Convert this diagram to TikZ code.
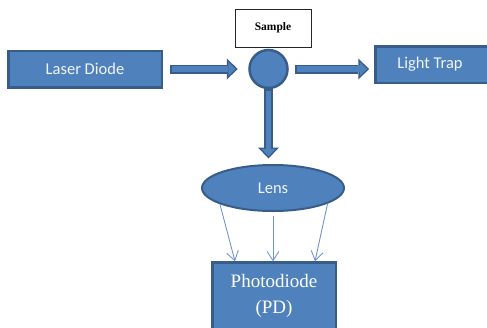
\documentclass[tikz,border=0pt]{standalone}
\usepackage{fontspec}
\setmainfont{Liberation Serif}
\newfontfamily\calib{Carlito}
\usetikzlibrary{arrows.meta,shapes.geometric,calc}
\definecolor{bfill}{HTML}{4F81BD}
\definecolor{bdark}{HTML}{385D8A}
\definecolor{thinc}{HTML}{6F95CC}
\definecolor{ltext}{HTML}{F2F5FA}
\begin{document}
\begin{tikzpicture}[x=1pt,y=-1pt,
  box/.style={draw=bdark, fill=bfill, line width=2.5pt, inner sep=0pt},
  sanslab/.style={text=ltext, font=\calib\fontsize{16.5}{18}\selectfont},
  blockouter/.style={line width=9pt, draw=bdark, -{Triangle[width=21pt,length=11pt,line width=0pt]}},
  blockinner/.style={line width=5.5pt, draw=bfill, -{Triangle[width=14pt,length=7.3pt,line width=0pt]}},
  thinarrow/.style={draw=thinc, line width=0.9pt, -{Straight Barb[length=9pt,width=12pt]}}]
\useasboundingbox (0,0) rectangle (487,327);
% nodes
\node[box, minimum width=153.5pt, minimum height=36.5pt, sanslab] (ld) at (85,69) {Laser Diode};
\node[draw=black!85, line width=0.8pt, minimum width=76pt, minimum height=38pt, inner sep=0pt,
      font=\bfseries\fontsize{11.5}{13}\selectfont] (s) at (273,28) {Sample};
\node[circle, draw=bdark, fill=bfill, line width=2.5pt, minimum size=38pt, inner sep=0pt] (c) at (268.5,69) {};
\node[box, minimum width=118pt, minimum height=36.5pt, anchor=west] (lt) at (374.25,64.5) {};
\node[sanslab] (ltt) at (430,64.5) {Light Trap};
\node[ellipse, draw=bdark, fill=bfill, line width=2pt, minimum width=142pt, minimum height=46pt, inner sep=0pt, sanslab] (lens) at (273,188) {Lens};
\node[box, minimum width=123.5pt, minimum height=80pt, anchor=north] (pd) at (274,261.25) {};
\node[align=center, text=white, font=\fontsize{19}{26}\selectfont] (pdt) at (274,295.5) {Photodiode\\(PD)};
% block arrows
\draw[blockouter, shorten <=7pt, shorten >=10.5pt] (ld.east) -- (ld.east -| c.west);
\draw[blockinner, shorten <=8.5pt, shorten >=12.7pt] (ld.east) -- (ld.east -| c.west);
\draw[blockouter, shorten <=6.5pt, shorten >=5pt] (c.east) -- (c.east -| lt.west);
\draw[blockinner, shorten <=8pt, shorten >=7.2pt] (c.east) -- (c.east -| lt.west);
\draw[blockouter, shorten <=0pt, shorten >=5.5pt] (c.south) -- (c.south |- lens.north);
\draw[blockinner, shorten <=1.5pt, shorten >=7.7pt] (c.south) -- (c.south |- lens.north);
% thin arrows
\draw[thinarrow] (lens.197) -- ($(pd.north)+(-39,0)$);
\draw[thinarrow, shorten <=4pt] (lens.south) -- (lens.south |- pd.north);
\draw[thinarrow] (lens.344) -- ($(pd.north)+(41,0)$);
\end{tikzpicture}
\end{document}
